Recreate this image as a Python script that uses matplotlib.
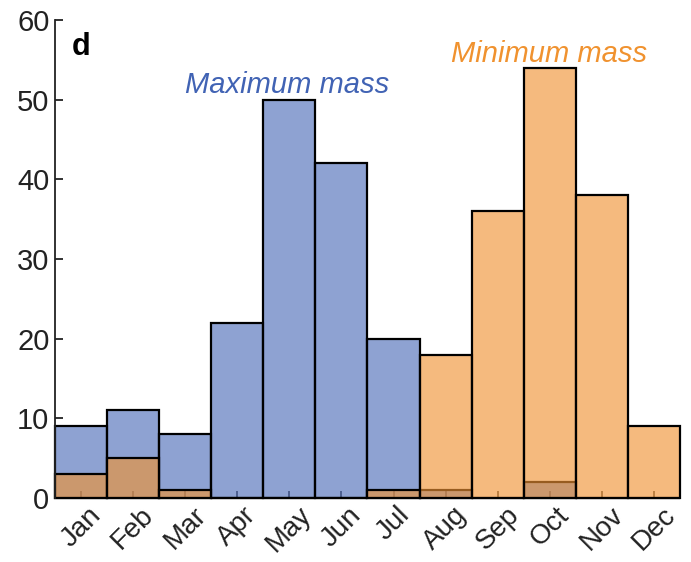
import matplotlib
matplotlib.use("Agg")
import matplotlib.pyplot as plt
import numpy as np

plt.rcParams["font.family"] = ["Liberation Sans", "DejaVu Sans"]

months = ["Jan", "Feb", "Mar", "Apr", "May", "Jun",
          "Jul", "Aug", "Sep", "Oct", "Nov", "Dec"]
max_mass = [9, 11, 8, 22, 50, 42, 20, 1, 0, 2, 0, 0]
min_mass = [3, 5, 1, 0, 0, 0, 1, 18, 36, 54, 38, 9]

blue = (0.25, 0.38, 0.70, 0.59)
orange = (0.94, 0.575, 0.20, 0.63)

fig = plt.figure(figsize=(6.91, 5.62), dpi=100)
ax = fig.add_axes([0.0796, 0.1139, 0.9044, 0.8505])
ax.set_axisbelow(True)

x = np.arange(len(months))
ax.bar(x, max_mass, width=1.0, color=blue, edgecolor="black", lw=1.6, clip_on=False)
ax.bar(x, min_mass, width=1.0, color=orange, edgecolor="black", lw=1.6, clip_on=False)

ax.set_xlim(-0.5, len(months) - 0.5)
ax.set_ylim(0, 60)
ax.set_yticks(range(0, 61, 10))
ax.set_xticks(x)
ax.set_xticklabels(months, rotation=45)

for side in ("top", "right", "bottom"):
    ax.spines[side].set_visible(False)
ax.spines["left"].set_linewidth(1.3)
ax.spines["left"].set_color("#222222")
ax.tick_params(axis="y", direction="in", length=6, width=1.3, color="#222222",
               labelsize=21, pad=4, labelcolor="#222222")
ax.tick_params(axis="x", direction="in", length=5, width=1.2, color="#444444",
               labelsize=20, pad=3, labelcolor="#222222")

ax.text(0.027, 0.927, "d", transform=ax.transAxes, fontsize=22,
        fontweight="bold", va="baseline")
ax.text(3.95, 50.9, "Maximum mass", color="#4163b4", fontsize=21,
        style="italic", ha="center", va="baseline")
ax.text(8.98, 54.7, "Minimum mass", color="#f0922f", fontsize=21,
        style="italic", ha="center", va="baseline")

fig.savefig("out.png", dpi=100)
